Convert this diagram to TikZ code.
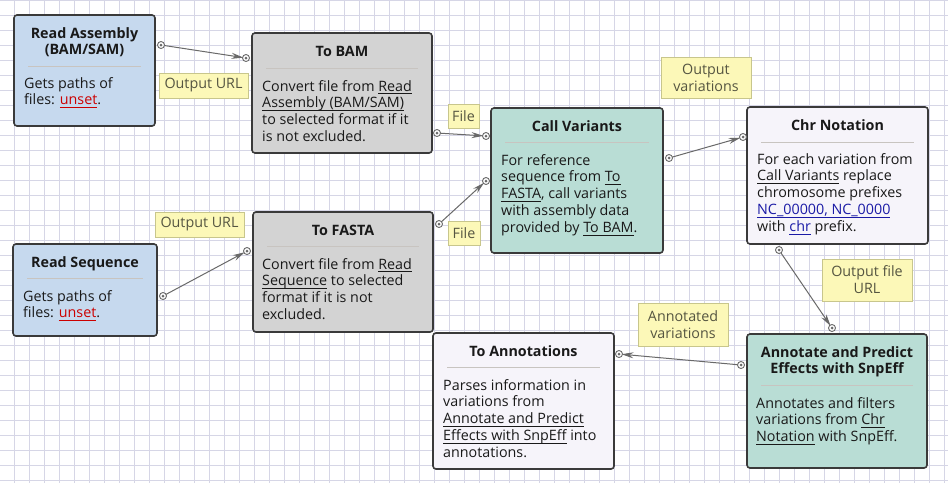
\documentclass[tikz,border=0pt]{standalone}
\usepackage{fontspec}
\setmainfont{Open Sans}
\usetikzlibrary{arrows.meta,calc}
\definecolor{gridc}{RGB}{214,214,230}
\definecolor{bluefill}{RGB}{198,217,238}
\definecolor{grayfill}{RGB}{211,211,211}
\definecolor{tealfill}{RGB}{185,221,213}
\definecolor{lightfill}{RGB}{246,244,250}
\definecolor{boxborder}{RGB}{58,58,58}
\definecolor{sepc}{RGB}{200,196,192}
\definecolor{labfill}{RGB}{252,248,184}
\definecolor{labborder}{RGB}{200,198,140}
\definecolor{labtext}{RGB}{85,85,65}
\definecolor{connc}{RGB}{105,105,105}
\definecolor{unsetred}{RGB}{204,0,0}
\definecolor{linkblue}{RGB}{26,26,166}
\definecolor{txtc}{RGB}{25,25,25}
\newsavebox{\lnkbox}
\newcommand{\lnk}[1]{\sbox{\lnkbox}{#1}\rlap{\rule[-2.8pt]{\wd\lnkbox}{0.9pt}}\usebox{\lnkbox}}
\newcommand{\redlnk}[1]{{\color{unsetred}\lnk{#1}}}
\newcommand{\bluelnk}[1]{{\color{linkblue}\lnk{#1}}}
\tikzset{
  gridline/.style={draw=gridc, line width=0.8pt},
  box/.style={draw=boxborder, line width=1.6pt, rounded corners=3pt, anchor=north west, inner sep=0pt, outer sep=0pt},
  sepline/.style={draw=sepc, line width=0.8pt},
  titletxt/.style={inner sep=0pt, anchor=base, text=txtc, font={\fontsize{14.3pt}{16.9pt}\selectfont\bfseries}},
  bodytxt/.style={inner sep=0pt, anchor=base west, text=txtc, font={\fontsize{14.3pt}{16.9pt}\selectfont}},
  lab/.style={draw=labborder, fill=labfill, line width=0.8pt, inner sep=0pt, text=labtext, align=center, font={\fontsize{14.3pt}{16.9pt}\selectfont}},
  conn/.style={draw=connc, line width=1pt, -{Stealth[length=12pt,width=6pt]}, shorten >=2.5pt, shorten <=3.5pt},
  port/.style={draw=connc, fill=white, line width=0.9pt},
}
\newcommand{\port}[1]{\draw[port] (#1) circle (3.5); \fill[connc] (#1) circle (1.5);}
\begin{document}
\begin{tikzpicture}[x=1pt,y=-1pt]
\useasboundingbox (0,0) rectangle (948,483);
\fill[white] (0,0) rectangle (948,483);
\foreach \x in {14,29,...,944} \draw[gridline] (\x,0) -- (\x,483);
\foreach \y in {0,15,...,480} \draw[gridline] (0,\y) -- (948,\y);

% boxes
\node[box, fill=bluefill, minimum width=141pt, minimum height=111pt] (ra) at (14,15) {};
\node[box, fill=grayfill, minimum width=180pt, minimum height=120pt] (tb) at (252,33) {};
\node[box, fill=tealfill, minimum width=172pt, minimum height=145pt] (cv) at (491,108) {};
\node[box, fill=lightfill, minimum width=181pt, minimum height=137pt] (cn) at (747,107) {};
\node[box, fill=bluefill, minimum width=144pt, minimum height=92pt] (rs) at (13,244) {};
\node[box, fill=grayfill, minimum width=180pt, minimum height=120pt] (tf) at (253,212) {};
\node[box, fill=lightfill, minimum width=181pt, minimum height=136pt] (ta) at (433,333) {};
\node[box, fill=tealfill, minimum width=180pt, minimum height=134pt] (ap) at (747,334) {};

% separators
\draw[sepline] ($(ra.west |- 0,66)+(14,0)$) -- ($(ra.east |- 0,66)+(-14,0)$);
\draw[sepline] ($(tb.west |- 0,68.5)+(14,0)$) -- ($(tb.east |- 0,68.5)+(-14,0)$);
\draw[sepline] ($(cv.west |- 0,142)+(14,0)$) -- ($(cv.east |- 0,142)+(-14,0)$);
\draw[sepline] ($(cn.west |- 0,142)+(14,0)$) -- ($(cn.east |- 0,142)+(-14,0)$);
\draw[sepline] ($(rs.west |- 0,278)+(14,0)$) -- ($(rs.east |- 0,278)+(-14,0)$);
\draw[sepline] ($(tf.west |- 0,246.5)+(14,0)$) -- ($(tf.east |- 0,246.5)+(-14,0)$);
\draw[sepline] ($(ta.west |- 0,367)+(14,0)$) -- ($(ta.east |- 0,367)+(-14,0)$);
\draw[sepline] ($(ap.west |- 0,385)+(14,0)$) -- ($(ap.east |- 0,385)+(-14,0)$);

% titles
\node[titletxt] (ra-t) at (84.5,38) {\parbox[t]{135pt}{\centering Read Assembly\\(BAM/SAM)}};
\node[titletxt] (tb-t) at (342,56) {To BAM};
\node[titletxt] (cv-t) at (577,131) {Call Variants};
\node[titletxt] (cn-t) at (837.5,130) {Chr Notation};
\node[titletxt] (rs-t) at (85,267) {Read Sequence};
\node[titletxt] (tf-t) at (343,235) {To FASTA};
\node[titletxt] (ta-t) at (523.5,356) {To Annotations};
\node[titletxt] (ap-t) at (837,357) {\parbox[t]{175pt}{\centering Annotate and Predict\\Effects with SnpEff}};

% bodies
\node[bodytxt] (ra-b) at (24,88) {\parbox[t]{130pt}{Gets paths of\\files: \redlnk{unset}.}};
\node[bodytxt] (tb-b) at (262,91) {\parbox[t]{170pt}{Convert file from \lnk{Read}\\\lnk{Assembly (BAM/SAM)}\\to selected format if it\\is not excluded.}};
\node[bodytxt] (cv-b) at (501,165) {\parbox[t]{160pt}{For reference\\sequence from \lnk{To}\\\lnk{FASTA}, call variants\\with assembly data\\provided by \lnk{To BAM}.}};
\node[bodytxt] (cn-b) at (757,164) {\parbox[t]{170pt}{For each variation from\\\lnk{Call Variants} replace\\chromosome prefixes\\\bluelnk{NC\_00000, NC\_0000}\\with \bluelnk{chr} prefix.}};
\node[bodytxt] (rs-b) at (23,301) {\parbox[t]{130pt}{Gets paths of\\files: \redlnk{unset}.}};
\node[bodytxt] (tf-b) at (262,269) {\parbox[t]{170pt}{Convert file from \lnk{Read}\\\lnk{Sequence} to selected\\format if it is not\\excluded.}};
\node[bodytxt] (ta-b) at (443,390) {\parbox[t]{170pt}{Parses information in\\variations from\\\lnk{Annotate and Predict}\\\lnk{Effects with SnpEff} into\\annotations.}};
\node[bodytxt] (ap-b) at (756,408) {\parbox[t]{170pt}{Annotates and filters\\variations from \lnk{Chr}\\\lnk{Notation} with SnpEff.}};

% labels
\node[lab, minimum width=89pt, minimum height=25pt] (l1) at (203.5,85.5) {Output URL};
\node[lab, minimum width=31pt, minimum height=24pt] (l2) at (463.5,116) {File};
\node[lab, minimum width=32pt, minimum height=24pt] (l3) at (464,233) {File};
\node[lab, minimum width=89pt, minimum height=25pt] (l4) at (199.5,224.5) {Output URL};
\node[lab, minimum width=90pt, minimum height=41pt] (l5) at (706,77.5) {Output\\variations};
\node[lab, minimum width=90pt, minimum height=42pt] (l6) at (867,280) {Output file\\URL};
\node[lab, minimum width=90pt, minimum height=43pt] (l7) at (683,324.5) {Annotated\\variations};

% ports
\coordinate (p1s) at (161,45);  \coordinate (p1e) at (246,58);
\coordinate (p2s) at (437,133); \coordinate (p2e) at (486,136);
\coordinate (p3s) at (439,224); \coordinate (p3e) at (486,181);
\coordinate (p4s) at (163,296); \coordinate (p4e) at (247,251);
\coordinate (p5s) at (669,158); \coordinate (p5e) at (743,137);
\coordinate (p6s) at (779,250); \coordinate (p6e) at (832,328);
\coordinate (p7s) at (741,365); \coordinate (p7e) at (619,354);

\foreach \a/\b in {p1s/p1e,p2s/p2e,p3s/p3e,p4s/p4e,p5s/p5e,p6s/p6e,p7s/p7e} {
  \draw[conn] (\a) -- (\b);
}
\foreach \p in {p1s,p1e,p2s,p2e,p3s,p3e,p4s,p4e,p5s,p5e,p6s,p6e,p7s,p7e} {
  \port{\p}
}
\end{tikzpicture}
\end{document}
